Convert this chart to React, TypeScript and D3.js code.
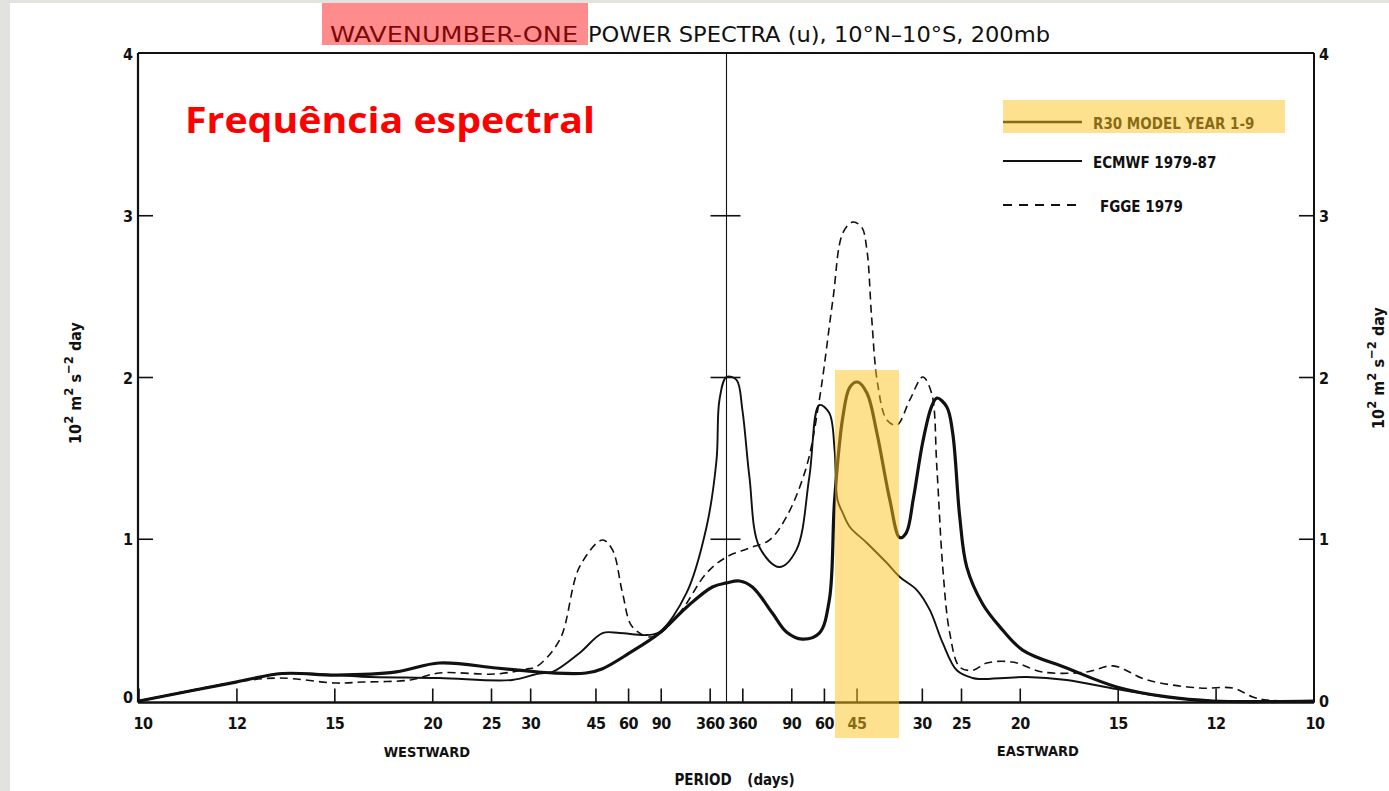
import React from 'react';
import * as d3 from 'd3';

// Period tick labels (days); westward = negative frequency, eastward = positive
const westPeriods = [10, 12, 15, 20, 25, 30, 45, 60, 90, 360];
const eastPeriods = [360, 90, 60, 45, 30, 25, 20, 15, 12, 10];
const powerTicks = [0, 1, 2, 3, 4];

// Frequencies in cycles/day (negative westward), power in 10^2 m^2 s^-2 day
const r30Freq = [-0.1, -0.0835, -0.0756, -0.0664, -0.0562, -0.0489, -0.0392, -0.0336, -0.0296, -0.0239, -0.0211, -0.0165, -0.0114, -0.0068, -0.0024, 0, 0.0022, 0.0044, 0.0078, 0.0102, 0.0129, 0.0158, 0.0175, 0.0184, 0.0198, 0.021, 0.0223, 0.0239, 0.0256, 0.0278, 0.0295, 0.0306, 0.0318, 0.0334, 0.0349, 0.0358, 0.0375, 0.0385, 0.0397, 0.0409, 0.0436, 0.0465, 0.0504, 0.0579, 0.0664, 0.075, 0.0828, 0.1];
const r30Power = [0, 0.117, 0.17, 0.16, 0.18, 0.235, 0.204, 0.185, 0.173, 0.173, 0.2, 0.297, 0.42, 0.58, 0.705, 0.73, 0.742, 0.705, 0.544, 0.427, 0.383, 0.42, 0.624, 1.243, 1.756, 1.941, 1.972, 1.904, 1.657, 1.243, 1.01, 1.04, 1.25, 1.6, 1.82, 1.873, 1.818, 1.657, 1.138, 0.828, 0.6, 0.46, 0.315, 0.204, 0.087, 0.025, 0, 0];

const ecmwfFreq = [-0.1, -0.0835, -0.0756, -0.0664, -0.062, -0.0489, -0.0365, -0.0319, -0.0296, -0.025, -0.0211, -0.0182, -0.0136, -0.0114, -0.0068, -0.0034, -0.0017, -0.0012, 0, 0.0017, 0.0027, 0.0039, 0.0056, 0.009, 0.0119, 0.0141, 0.0158, 0.0175, 0.0184, 0.0189, 0.0198, 0.021, 0.0239, 0.0273, 0.0295, 0.0324, 0.0346, 0.0368, 0.0392, 0.0419, 0.0431, 0.0511, 0.0579, 0.0664, 0.075, 0.0828, 0.1];
const ecmwfPower = [0, 0.117, 0.17, 0.16, 0.15, 0.142, 0.13, 0.17, 0.18, 0.297, 0.42, 0.42, 0.408, 0.427, 0.668, 1.076, 1.49, 1.861, 2.003, 1.985, 1.8, 1.385, 0.952, 0.828, 0.934, 1.385, 1.83, 1.78, 1.552, 1.243, 1.162, 1.076, 0.977, 0.853, 0.767, 0.686, 0.563, 0.359, 0.19, 0.142, 0.136, 0.148, 0.13, 0.074, 0.025, 0, 0];

const fggeFreq = [-0.1, -0.0835, -0.0762, -0.0664, -0.062, -0.0538, -0.0489, -0.0392, -0.0336, -0.0324, -0.0284, -0.025, -0.0211, -0.0194, -0.0177, -0.016, -0.0126, -0.008, -0.0034, 0, 0.0039, 0.0073, 0.0102, 0.0136, 0.0158, 0.0181, 0.0198, 0.0215, 0.023, 0.0239, 0.0247, 0.0257, 0.0273, 0.029, 0.0312, 0.0334, 0.0349, 0.0358, 0.0368, 0.038, 0.0397, 0.0419, 0.0443, 0.0487, 0.0538, 0.0613, 0.0658, 0.0716, 0.0806, 0.0862, 0.0896, 0.092, 0.1];
const fggePower = [0, 0.117, 0.142, 0.111, 0.117, 0.13, 0.173, 0.167, 0.2, 0.21, 0.377, 0.83, 0.995, 0.934, 0.668, 0.457, 0.396, 0.544, 0.791, 0.89, 0.946, 0.995, 1.138, 1.447, 1.861, 2.479, 2.893, 2.961, 2.93, 2.788, 2.374, 1.966, 1.737, 1.706, 1.861, 2.003, 1.904, 1.447, 0.83, 0.42, 0.21, 0.19, 0.235, 0.241, 0.179, 0.179, 0.217, 0.13, 0.08, 0.08, 0.025, 0.006, 0];

const legendNames = ['R30 MODEL YEAR 1-9', 'ECMWF 1979-87', 'FGGE 1979'];

const W = 1389;
const H = 791;
const FONT = "'DejaVu Sans Condensed', 'Liberation Sans Narrow', sans-serif";

export default function App() {
  const x = d3.scaleLinear().domain([-0.1, 0.1]).range([139, 1314]);
  const y = d3.scaleLinear().domain([0, 4]).range([701, 54]);
  const yTop = y(4) - 1;
  const yBot = y(0) + 1.5;

  const mk = (fs: number[], ps: number[]) =>
    d3
      .line<number>()
      .x((_, i) => x(fs[i]))
      .y((p) => y(Math.max(0, p)))
      .curve(d3.curveCatmullRom.alpha(0.5))(ps) as string;

  const series = [
    { name: legendNames[0], d: mk(r30Freq, r30Power), w: 3.2, dash: undefined },
    { name: legendNames[1], d: mk(ecmwfFreq, ecmwfPower), w: 1.9, dash: undefined },
    { name: legendNames[2], d: mk(fggeFreq, fggePower), w: 1.6, dash: '8,5' },
  ];

  const xTicks = [
    ...westPeriods.map((p) => ({ p, f: -1 / p })),
    ...eastPeriods.map((p) => ({ p, f: 1 / p })),
  ];

  const x0 = x(0);
  const xl = x(-0.1) - 1;
  const xr = x(0.1);
  const hi = 'rgba(252,196,30,0.5)';

  const unitLabel = (
    <>
      <tspan>10</tspan>
      <tspan dy={-8} fontSize={13}>2</tspan>
      <tspan dy={8}> m</tspan>
      <tspan dy={-8} fontSize={13}>2</tspan>
      <tspan dy={8}> s</tspan>
      <tspan dy={-8} fontSize={13}>−2</tspan>
      <tspan dy={8}> day</tspan>
    </>
  );

  return (
    <svg
      width={W}
      height={H}
      style={{ position: 'absolute', left: 0, top: 0, display: 'block' }}
      fontFamily={FONT}
    >
      <rect x={0} y={0} width={W} height={H} fill="#e2e2de" />
      <rect x={10} y={3} width={W - 10} height={H - 3} fill="#ffffff" />

      {/* Title */}
      <text x={330} y={42} fontSize={21} fill="#111" textLength={248} lengthAdjust="spacingAndGlyphs">
        WAVENUMBER-ONE
      </text>
      <text x={588} y={42} fontSize={21} fill="#111" textLength={462} lengthAdjust="spacingAndGlyphs">
        POWER SPECTRA (u), 10°N–10°S, 200mb
      </text>
      <rect x={322} y={3} width={266} height={42} fill="rgba(255,0,0,0.45)" />

      {/* Frame */}
      <line x1={xl} x2={xr} y1={yTop} y2={yTop} stroke="#111" strokeWidth={2} />
      <line x1={xl} x2={xl} y1={yTop} y2={yBot} stroke="#111" strokeWidth={2.2} />
      <line x1={xr} x2={xr} y1={yTop} y2={yBot} stroke="#111" strokeWidth={2} />
      <line x1={xl} x2={xr} y1={yBot} y2={yBot} stroke="#111" strokeWidth={2.5} />
      <line x1={x0} x2={x0} y1={yTop} y2={yBot} stroke="#111" strokeWidth={1.1} />

      {/* Y ticks & labels */}
      {powerTicks.map((t) => (
        <g key={'yt' + t}>
          {t > 0 && t < 4 && (
            <>
              <line x1={xl} x2={xl + 15} y1={y(t)} y2={y(t)} stroke="#111" strokeWidth={1.6} />
              <line x1={xr - 15} x2={xr} y1={y(t)} y2={y(t)} stroke="#111" strokeWidth={1.6} />
              <line x1={x0 - 16} x2={x0 + 14} y1={y(t)} y2={y(t)} stroke="#111" strokeWidth={1.6} />
            </>
          )}
          <text x={xl - 5} y={y(t) + (t === 0 ? 2 : 6)} textAnchor="end" fontSize={16} fontWeight="bold" fill="#111">
            {t}
          </text>
          <text x={xr + 5} y={y(t) + 6} textAnchor="start" fontSize={16} fontWeight="bold" fill="#111">
            {t}
          </text>
        </g>
      ))}

      {/* X ticks & labels */}
      {xTicks.map((t, i) => (
        <g key={'xt' + i}>
          <line x1={x(t.f)} x2={x(t.f)} y1={yBot} y2={yBot - 14} stroke="#111" strokeWidth={1.6} />
          <text
            x={x(t.f) + (Math.abs(t.f) === 0.1 ? (t.f < 0 ? 4 : 1) : 0)}
            y={729}
            textAnchor="middle"
            fontSize={16}
            fontWeight="bold"
            fill="#111"
            letterSpacing={-0.5}
          >
            {t.p}
          </text>
        </g>
      ))}
      <text x={x(-0.051)} y={757} textAnchor="middle" fontSize={14.5} fontWeight="bold" fill="#111">
        WESTWARD
      </text>
      <text x={x(0.053)} y={756} textAnchor="middle" fontSize={14.5} fontWeight="bold" fill="#111">
        EASTWARD
      </text>
      <text x={703} y={785} textAnchor="middle" fontSize={15} fontWeight="bold" fill="#111">
        PERIOD
      </text>
      <text x={771} y={785} textAnchor="middle" fontSize={15} fontWeight="bold" fill="#111">
        (days)
      </text>

      {/* Axis titles */}
      <text transform="translate(81,383) rotate(-90)" textAnchor="middle" fontSize={16} fontWeight="bold" fill="#111">
        {unitLabel}
      </text>
      <text transform="translate(1384,368) rotate(-90)" textAnchor="middle" fontSize={16} fontWeight="bold" fill="#111">
        {unitLabel}
      </text>

      {/* Curves */}
      {series.map((s) => (
        <path
          key={s.name}
          d={s.d}
          fill="none"
          stroke="#111"
          strokeWidth={s.w}
          strokeDasharray={s.dash}
          strokeLinejoin="round"
        />
      ))}

      {/* Legend */}
      {series.map((s, i) => {
        const ly = [122, 161, 205][i];
        return (
          <g key={'lg' + i}>
            <line x1={1003} x2={1082} y1={ly} y2={ly} stroke="#111" strokeWidth={s.w === 3.2 ? 2.6 : 1.9} strokeDasharray={s.dash ? '9,7' : undefined} />
            <text x={i === 2 ? 1100 : 1093} y={ly + 7} fontSize={15} fontWeight="bold" fill="#111">
              {s.name}
            </text>
          </g>
        );
      })}
      <rect x={1003} y={100} width={282} height={33} fill={hi} />

      {/* Highlight band on 45-day eastward */}
      <rect x={835} y={370} width={64} height={368} fill={hi} />

      {/* Annotation */}
      <text x={185} y={133} fontSize={35} fontWeight="bold" fill="#ff0000" fontFamily="'Open Sans', 'Liberation Sans', sans-serif" textLength={410} lengthAdjust="spacingAndGlyphs">
        Frequência espectral
      </text>
    </svg>
  );
}
